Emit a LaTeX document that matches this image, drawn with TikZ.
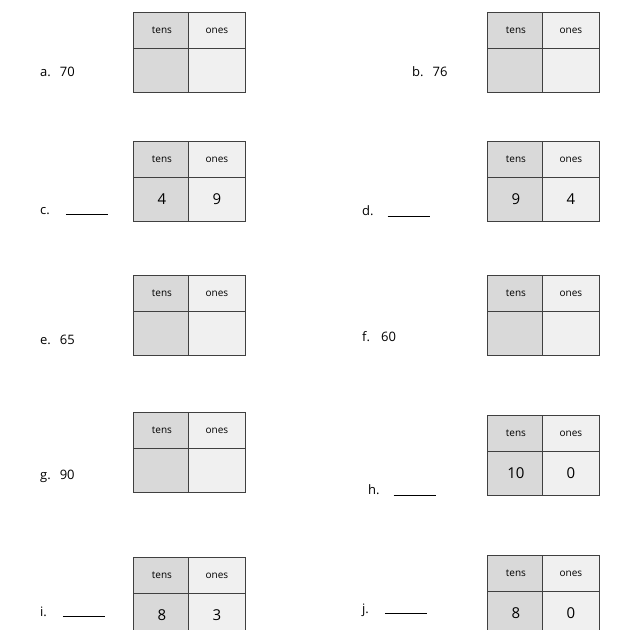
\documentclass[tikz,border=0pt]{standalone}
\usepackage{fontspec}
\setmainfont{Open Sans}
\definecolor{pv_tens}{RGB}{217,217,217}
\definecolor{pv_ones}{RGB}{240,240,240}
\tikzset{
  cell/.style={draw=black!75,line width=0.8pt,minimum width=57pt,inner sep=0pt,anchor=north west},
  head/.style={cell,minimum height=36pt,font=\fontsize{10}{12}\selectfont},
  val/.style={cell,minimum height=44pt,font=\fontsize{15}{18}\selectfont},
  lbl/.style={anchor=west,inner sep=0pt,font=\fontsize{13}{16}\selectfont},
}
% place value table: name, x, y, tens digit, ones digit
\newcommand{\pvtable}[5]{%
  \node[head,fill=pv_tens] (#1th) at (#2,#3) {tens};
  \node[head,fill=pv_ones] (#1oh) at (#2+55,#3) {ones};
  \node[val,fill=pv_tens]  (#1tv) at (#2,#3+36) {#4};
  \node[val,fill=pv_ones]  (#1ov) at (#2+55,#3+36) {#5};
}
\newcommand{\blank}{\rule[-1pt]{42pt}{0.9pt}}

\begin{document}
\begin{tikzpicture}[x=1pt,y=-1pt]
\useasboundingbox (0,0) rectangle (622,630);

% ------------------------------------------------ tables
\pvtable{a}{133}{12}{}{}
\pvtable{b}{487}{12}{}{}
\pvtable{c}{133}{141}{4}{9}
\pvtable{d}{487}{141}{9}{4}
\pvtable{e}{133}{275}{}{}
\pvtable{f}{487}{275}{}{}
\pvtable{g}{133}{412}{}{}
\pvtable{h}{487}{415}{10}{0}
\pvtable{i}{133}{557}{8}{3}
\pvtable{j}{487}{555}{8}{0}

% ------------------------------------------------ labels
\node[lbl] (la) at (40,72)  {a.\hspace{9pt}70};
\node[lbl] (lb) at (412,72) {b.\hspace{9pt}76};
\node[lbl] (lc) at (40,211) {c.\hspace{16pt}\blank};
\node[lbl] (ld) at (362,211) {d.\hspace{14pt}\blank};
\node[lbl] (le) at (40,340) {e.\hspace{9pt}65};
\node[lbl] (lf) at (362,337) {f.\hspace{11pt}60};
\node[lbl] (lg) at (40,476) {g.\hspace{9pt}90};
\node[lbl] (lh) at (368,490) {h.\hspace{14pt}\blank};
\node[lbl] (li) at (40,612) {i.\hspace{16pt}\blank};
\node[lbl] (lj) at (362,610) {j.\hspace{16pt}\blank};

\end{tikzpicture}
\end{document}
